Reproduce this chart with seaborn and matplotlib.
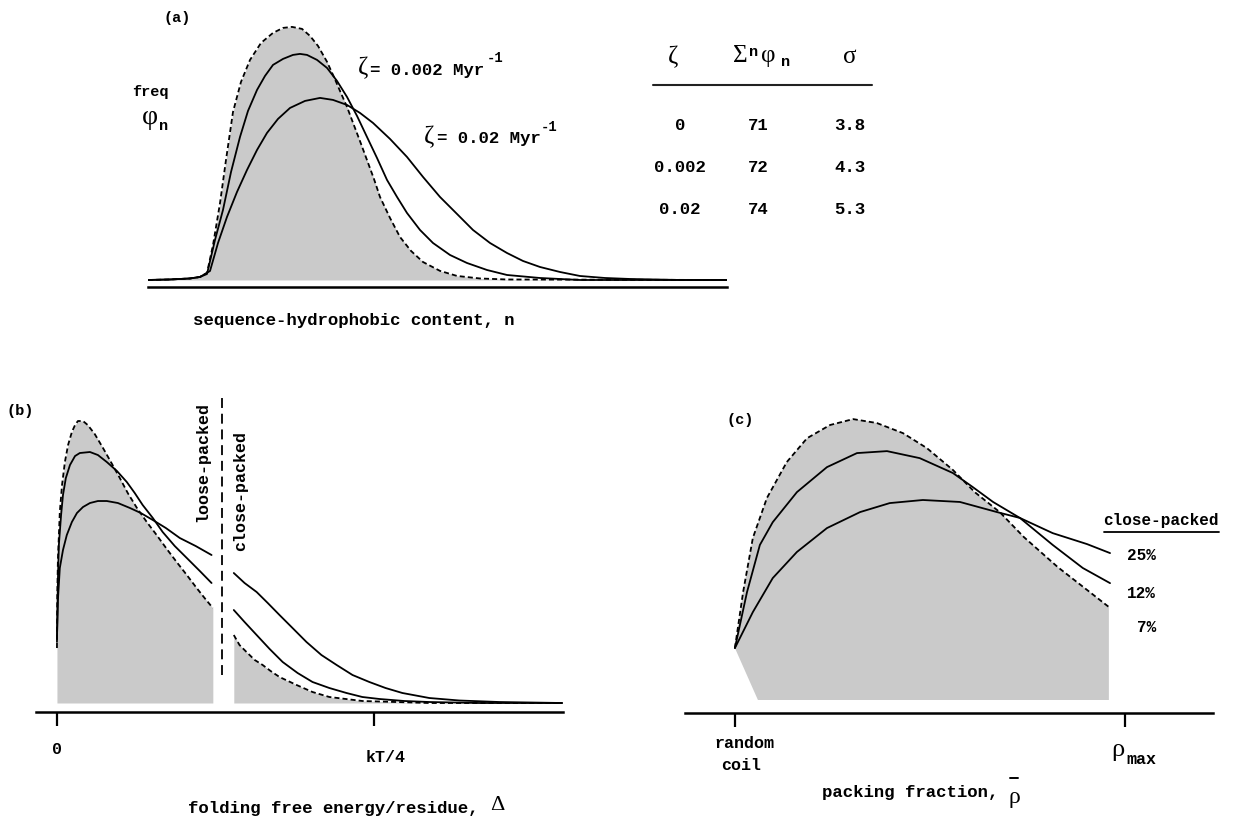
import numpy as np
import matplotlib
matplotlib.use("Agg")
import matplotlib.pyplot as plt
from matplotlib.lines import Line2D
import seaborn as sns

# ---------------- data ----------------
# panel (a): sequence-hydrophobic content n (axis units 0..100), frequency phi_n (relative, peak of zeta=0 -> 100)
a_n_z0 = [0, 3.8, 7.25, 8.98, 10.19, 11.23, 12.44, 13.47, 14.68, 16.06, 17.62, 19.52, 21.59, 23.32, 24.87,
          26.60, 27.98, 29.36, 30.92, 32.12, 33.16, 34.37, 35.41, 36.61, 37.82, 39.03, 40.07, 41.80, 43.52,
          45.42, 47.50, 50.43, 53.37, 57.34, 62.0, 100]
a_phi_z0 = [0, 0.2, 0.6, 1.2, 2.77, 13.83, 30.43, 47.43, 66.40, 78.26, 86.96, 93.68, 97.63, 99.60, 100,
            99.21, 96.44, 92.49, 86.2, 80.2, 74.7, 68.4, 62.1, 54.9, 47.4, 39.9, 32.8, 24.5, 17.0,
            11.5, 7.1, 3.6, 1.6, 0.6, 0.2, 0]
a_n_z002 = [0, 3.8, 7.25, 8.98, 10.19, 11.57, 12.95, 14.34, 15.89, 17.27, 18.83, 20.21, 21.59, 23.32, 25.04,
            26.25, 27.46, 29.19, 30.92, 32.64, 34.37, 36.10, 37.82, 39.55, 41.28, 43.01, 44.73, 46.98, 49.22,
            52.16, 55.09, 58.55, 62.0, 67.70, 74.61, 100]
a_phi_z002 = [0, 0.2, 0.6, 1.2, 2.37, 15.81, 27.67, 42.69, 56.52, 66.80, 75.10, 80.63, 84.98, 87.35, 88.93,
              89.33, 88.93, 86.96, 83.79, 78.66, 72.33, 64.82, 56.52, 48.22, 39.53, 32.81, 26.48, 19.76, 14.62,
              9.88, 6.72, 3.95, 1.98, 0.79, 0, 0]
a_n_z02 = [0, 3.8, 7.25, 8.98, 10.71, 12.09, 13.64, 15.37, 17.10, 18.83, 20.55, 22.45, 24.53, 27.12, 29.71,
           31.95, 34.37, 36.61, 38.86, 41.80, 44.73, 47.50, 50.43, 53.37, 56.13, 59.07, 62.0, 64.77, 67.70,
           71.16, 74.61, 78.93, 83.25, 91.88, 100]
a_phi_z02 = [0, 0.2, 0.6, 1.2, 3.56, 14.62, 24.90, 34.78, 43.48, 51.38, 58.10, 63.64, 67.98, 70.75, 71.94,
             71.15, 69.17, 66.01, 62.06, 55.73, 48.62, 40.71, 32.81, 26.09, 19.76, 14.62, 10.67, 7.51, 5.14,
             3.16, 1.58, 0.79, 0.40, 0, 0]

# table in panel (a)
table_zeta = ["0", "0.002", "0.02"]
table_mean_n = [71, 72, 74]
table_sigma = [3.8, 4.3, 5.3]

# panel (b): folding free energy per residue, Delta (units of kT/4), relative frequency
b_x_7_left = [0, 0.001, 0.003, 0.009, 0.016, 0.025, 0.035, 0.047, 0.057, 0.066, 0.082, 0.097, 0.119, 0.145,
              0.170, 0.198, 0.223, 0.252, 0.283, 0.314, 0.346, 0.377, 0.409, 0.440, 0.465, 0.491]
b_y_7_left = [19.50, 38.30, 50.71, 67.73, 77.30, 85.46, 91.49, 96.10, 98.58, 100, 100, 98.58, 95.39, 90.43,
              85.46, 79.79, 74.47, 69.15, 64.18, 59.57, 54.61, 50.0, 45.39, 40.78, 37.23, 33.69]
b_x_7_right = [0.557, 0.575, 0.597, 0.623, 0.648, 0.673, 0.701, 0.755, 0.805, 0.858, 0.962, 1.173, 1.591]
b_y_7_right = [24.11, 20.57, 18.09, 15.25, 13.48, 11.35, 9.22, 6.38, 3.90, 2.13, 0.71, 0, 0]
b_x_12_left = [0, 0.003, 0.006, 0.013, 0.019, 0.028, 0.041, 0.057, 0.072, 0.104, 0.129, 0.157, 0.189, 0.220,
               0.245, 0.270, 0.302, 0.333, 0.371, 0.409, 0.450, 0.487]
b_y_12_left = [21.63, 43.62, 56.03, 66.67, 73.76, 79.79, 84.40, 87.59, 88.65, 89.01, 87.94, 85.46, 82.27, 78.37,
               74.47, 70.21, 65.60, 60.64, 55.67, 51.42, 46.81, 42.55]
b_x_12_right = [0.557, 0.591, 0.629, 0.670, 0.711, 0.758, 0.805, 0.858, 0.912, 0.962, 1.016, 1.094, 1.173,
                1.330, 1.591]
b_y_12_right = [32.98, 28.72, 24.11, 19.15, 14.54, 10.64, 7.45, 5.32, 3.55, 2.13, 1.42, 0.71, 0.35, 0, 0]
b_x_25_left = [0, 0.003, 0.009, 0.019, 0.031, 0.047, 0.063, 0.082, 0.104, 0.129, 0.157, 0.192, 0.230, 0.264,
               0.302, 0.343, 0.387, 0.437, 0.487]
b_y_25_left = [23.05, 36.52, 47.87, 54.26, 59.57, 64.18, 67.38, 69.50, 70.92, 71.63, 71.63, 70.92, 69.15, 67.38,
               64.89, 62.06, 58.51, 55.67, 52.48]
b_x_25_right = [0.557, 0.591, 0.629, 0.664, 0.701, 0.742, 0.786, 0.833, 0.881, 0.931, 0.984, 1.035, 1.088,
                1.173, 1.267, 1.393, 1.591]
b_y_25_right = [46.10, 42.55, 39.36, 35.46, 31.21, 26.60, 21.63, 17.02, 13.48, 9.93, 7.45, 5.32, 3.55,
                1.77, 0.89, 0.35, 0]
b_divider_x = 0.519
b_divider_y = [9.9, 109.0]
b_ticks = [0, 1]
b_tick_labels = ["0", "kT/4"]

# panel (c): packing fraction (random coil = 0, rho_max = 1), relative frequency
c_x_7 = [0, 0.021, 0.046, 0.082, 0.133, 0.185, 0.244, 0.303, 0.364, 0.431, 0.492, 0.559, 0.615, 0.679, 0.741, 0.828, 0.913, 0.959]
c_y_7 = [18.5, 38.4, 57.7, 71.9, 84.7, 93.2, 97.9, 100, 98.6, 95.0, 89.7, 81.9, 74.0, 66.9, 58.0, 47.3, 38.1, 33.1]
c_x_12 = [0, 0.031, 0.064, 0.097, 0.159, 0.236, 0.313, 0.390, 0.474, 0.559, 0.610, 0.662, 0.731, 0.815, 0.892, 0.962]
c_y_12 = [18.5, 38.4, 55.2, 63.3, 74.0, 82.9, 87.9, 88.6, 86.1, 80.8, 75.8, 70.5, 64.8, 55.2, 47.0, 41.6]
c_x_25 = [0, 0.046, 0.097, 0.159, 0.236, 0.321, 0.397, 0.482, 0.577, 0.672, 0.731, 0.815, 0.903, 0.962]
c_y_25 = [18.5, 31.3, 43.4, 52.7, 61.2, 66.9, 70.1, 71.2, 70.5, 66.9, 64.8, 59.4, 55.5, 52.3]
c_fill_base_x = [0.959, 0.059, 0]
c_fill_base_y = [0, 0, 18.5]
c_ticks = [0, 1]
c_labels = ["25%", "12%", "7%"]

# ---------------- style ----------------
sns.set_style("white")
MONO = ["Liberation Mono", "DejaVu Sans Mono"]
SERIF = ["Liberation Serif", "DejaVu Serif"]
plt.rcParams["font.family"] = MONO

GRAY = "#cacaca"
LW = 1.3
AXLW = 1.8
DASH = (0, (2.8, 1.7))
TW = "bold"

W, H = 1241, 817
fig = plt.figure(figsize=(W / 100, H / 100), dpi=100)
fig.patch.set_facecolor("white")


def ax_at(x0, x1, ytop, ybot):
    ax = fig.add_axes([x0 / W, 1 - ybot / H, (x1 - x0) / W, (ybot - ytop) / H])
    ax.set_facecolor("none")
    for s in ["top", "left", "right"]:
        ax.spines[s].set_visible(False)
    ax.spines["bottom"].set_linewidth(AXLW)
    ax.spines["bottom"].set_color("black")
    ax.set_yticks([])
    ax.set_xticks([])
    return ax


def ftext(px, py, s, **kw):
    kw.setdefault("ha", "center")
    kw.setdefault("va", "center")
    kw.setdefault("family", MONO)
    kw.setdefault("color", "black")
    if kw["family"] is MONO:
        kw.setdefault("weight", TW)
    fig.text(px / W, 1 - py / H, s, **kw)


def fline(x0, x1, py, lw=1.3, color="black"):
    fig.add_artist(Line2D([x0 / W, x1 / W], [1 - py / H, 1 - py / H], color=color, lw=lw))


def curve(ax, x, y, dashed=False):
    kws = dict(color="black", linewidth=LW, estimator=None, sort=False, legend=False)
    if dashed:
        kws["linestyle"] = DASH
    sns.lineplot(x=x, y=y, ax=ax, **kws)


def clean(ax):
    ax.set_xlabel("")
    ax.set_ylabel("")


# ---------------- panel (a) ----------------
ax_a = ax_at(148, 727, 15, 287)
ax_a.fill_between(a_n_z0, 0, a_phi_z0, color=GRAY, linewidth=0)
curve(ax_a, a_n_z02, a_phi_z02)
curve(ax_a, a_n_z002, a_phi_z002)
curve(ax_a, a_n_z0, a_phi_z0, dashed=True)
ax_a.set_xlim(0, 100)
ax_a.set_ylim(-2.77, 104.7)
ax_a.set_xticks([])
clean(ax_a)

ftext(177, 18, "(a)", size=11)
ftext(150, 92, "freq", size=11)
ftext(150, 117, "\u03c6", family=SERIF, size=20)
ftext(164, 126, "n", size=11)
ftext(363, 68, "\u03b6", family=SERIF, size=18)
ftext(370, 70, "= 0.002 Myr", ha="left", size=12.5)
ftext(487, 58, "-1", ha="left", size=10)
ftext(429, 137, "\u03b6", family=SERIF, size=18)
ftext(437, 139, "= 0.02 Myr", ha="left", size=12.5)
ftext(541, 127, "-1", ha="left", size=10)
ftext(354, 320, "sequence-hydrophobic content, n", size=12.5)

# table
ftext(673, 57, "\u03b6", family=SERIF, size=18)
ftext(740, 56, "\u03a3", family=SERIF, size=18)
ftext(754, 52, "n", size=11)
ftext(768, 56, "\u03c6", family=SERIF, size=18)
ftext(786, 62, "n", size=11)
ftext(850, 57, "\u03c3", family=SERIF, size=18)
fline(653, 872, 85, lw=1.5, color="#222222")
for i, (z, m, s) in enumerate(zip(table_zeta, table_mean_n, table_sigma)):
    yrow = 125 + 42 * i
    ftext(680, yrow, z, size=12.5)
    ftext(758, yrow, str(m), size=12.5)
    ftext(850, yrow, f"{s:.1f}", size=12.5)

# ---------------- panel (b) ----------------
ax_b = ax_at(36, 563, 390, 712)
ax_b.fill_between(b_x_7_left, 0, b_y_7_left, color=GRAY, linewidth=0)
ax_b.fill_between(b_x_7_right, 0, b_y_7_right, color=GRAY, linewidth=0)
for xs, ys in [(b_x_25_left, b_y_25_left), (b_x_25_right, b_y_25_right),
               (b_x_12_left, b_y_12_left), (b_x_12_right, b_y_12_right)]:
    curve(ax_b, xs, ys)
curve(ax_b, b_x_7_left, b_y_7_left, dashed=True)
curve(ax_b, b_x_7_right, b_y_7_right, dashed=True)
ax_b.plot([b_divider_x, b_divider_x], b_divider_y, color="black", lw=1.3, linestyle=(0, (5.5, 3.2)))
ax_b.set_xlim(-0.066, 1.594)
ax_b.set_ylim(-3.19, 111.0)
ax_b.set_xticks(b_ticks)
ax_b.set_xticklabels([""] * len(b_ticks))
ax_b.tick_params(axis="x", bottom=True, direction="out", length=10, width=1.6, color="black")
clean(ax_b)

ftext(20, 411, "(b)", size=11)
ftext(203, 462, "loose-packed", rotation=90, size=12)
ftext(241, 491, "close-packed", rotation=90, size=12)
ftext(57, 750, b_tick_labels[0], size=12)
ftext(386, 758, b_tick_labels[1], size=12)
ftext(188, 808, "folding free energy/residue, ", ha="left", size=12.5)
ftext(497, 805, "\u0394", family=SERIF, size=16)

# ---------------- panel (c) ----------------
ax_c = ax_at(685, 1213, 400, 713)
poly_x = np.concatenate([c_x_7, c_fill_base_x])
poly_y = np.concatenate([c_y_7, c_fill_base_y])
ax_c.fill(poly_x, poly_y, color=GRAY, linewidth=0)
curve(ax_c, c_x_25, c_y_25)
curve(ax_c, c_x_12, c_y_12)
curve(ax_c, c_x_7, c_y_7, dashed=True)
ax_c.set_xlim(-0.128, 1.226)
ax_c.set_ylim(-4.63, 106.8)
ax_c.set_xticks(c_ticks)
ax_c.set_xticklabels([""] * len(c_ticks))
ax_c.tick_params(axis="x", bottom=True, direction="out", length=10, width=1.6, color="black")
clean(ax_c)

ftext(740, 420, "(c)", size=11)
ftext(1161, 520, "close-packed", size=11.5)
fline(1104, 1219, 532)
for lab, yy in zip(c_labels, [556, 593, 628]):
    ftext(1156, yy, lab, ha="right", size=11.5)
ftext(744, 744, "random", size=12)
ftext(741, 765, "coil", size=12)
ftext(1118, 750, "\u03c1", family=SERIF, size=19)
ftext(1141, 759, "max", size=12)
ftext(822, 793, "packing fraction, ", ha="left", size=12.5)
ftext(1014, 797, "\u03c1", family=SERIF, size=17)
fline(1010, 1018, 778, lw=1.4)

fig.savefig("out.png", dpi=100, facecolor="white")
